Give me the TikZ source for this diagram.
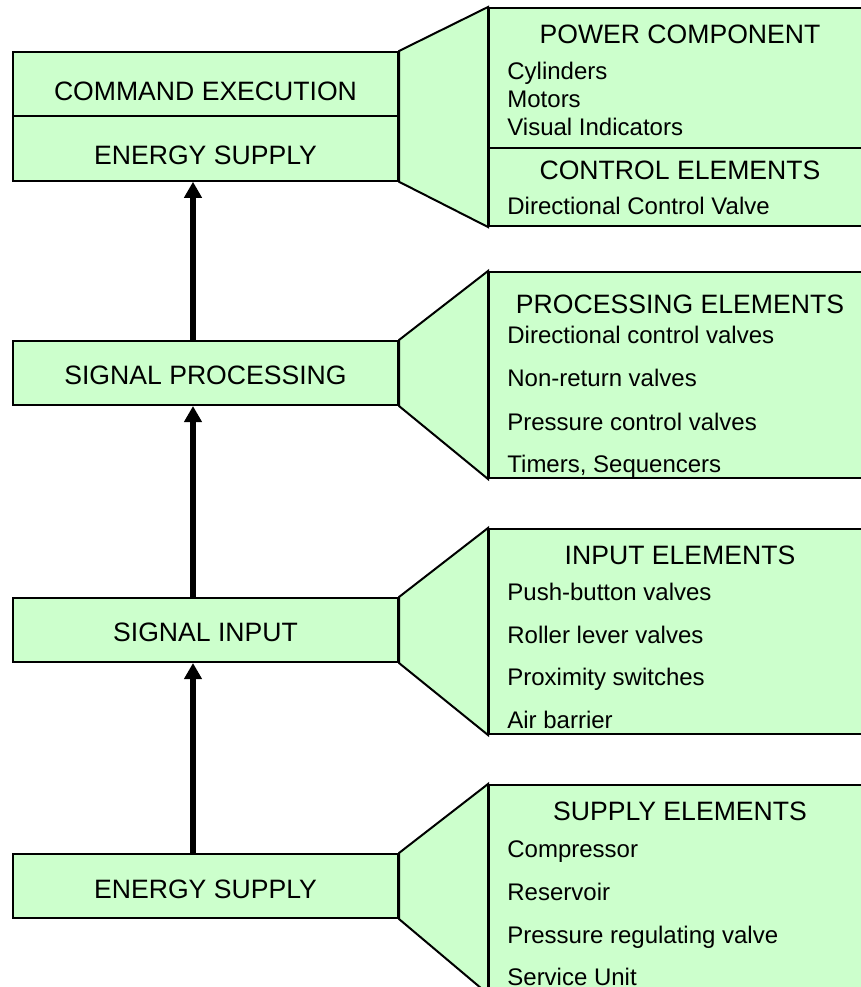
\documentclass[tikz,border=0pt]{standalone}
\usepackage{fontspec}
\setmainfont{Liberation Sans}
\usepackage{xcolor}
\usetikzlibrary{calc,arrows.meta}

\definecolor{stagegreen}{HTML}{CCFFCC}

\tikzset{
	stage/.style={draw, fill=stagegreen, line width=1pt, inner sep=0pt,
		minimum width=192.5pt, minimum height=32pt, text depth=0pt,
		font=\fontsize{13.3}{16}\selectfont},
	panel/.style={draw, fill=stagegreen, line width=1pt, inner sep=0pt,
		anchor=north west, minimum width=200pt},
	funnel/.style={draw, fill=stagegreen, line width=1pt, line join=miter},
	heading/.style={inner sep=0pt, font=\fontsize{13.3}{16}\selectfont},
	entry/.style={inner sep=0pt, anchor=base west, font=\fontsize{12}{14}\selectfont},
	flow/.style={line width=2.6pt, -{Triangle[length=8pt,width=8.5pt]}}
}

\begin{document}
\begin{tikzpicture}[x=0.5pt, y=-0.5pt]
			\useasboundingbox (0,0) rectangle (861,987);
			\clip (0,0) rectangle (861,987);

			\node[stage, text height=16.5pt] (exec) at (205.5,84) {COMMAND EXECUTION};
			\node[stage, minimum height=32.5pt, text height=16.5pt] (topsupply) at (205.5,148.25) {ENERGY SUPPLY};
			\node[stage, text height=11pt] (process) at (205.5,373) {SIGNAL PROCESSING};
			\node[stage, text height=11.5pt] (input) at (205.5,630) {SIGNAL INPUT};
			\node[stage, text height=12.5pt] (supply) at (205.5,886) {ENERGY SUPPLY};

			\node[panel, minimum height=109pt] (powerpanel) at (488,7) {};
			\node[panel, minimum height=103pt] (processpanel) at (488,271) {};
			\node[panel, minimum height=102.5pt] (inputpanel) at (488,528) {};
			\node[panel, minimum height=104pt] (supplypanel) at (488,784) {};

			\draw[funnel] (exec.north east) -- (powerpanel.north west) -- (powerpanel.south west) -- (topsupply.south east) -- cycle;
			\draw[funnel] (process.north east) -- (processpanel.north west) -- (processpanel.south west) -- (process.south east) -- cycle;
			\draw[funnel] (input.north east) -- (inputpanel.north west) -- (inputpanel.south west) -- (input.south east) -- cycle;
			\draw[funnel] (supply.north east) -- (supplypanel.north west) -- (supplypanel.south west) -- (supply.south east) -- cycle;

			\draw[line width=1pt] (powerpanel.west |- 0,148) -- (powerpanel.east |- 0,148);

			\node[heading] (power) at (680,34) {POWER COMPONENT};
			\node[entry] (cyl) at (507,79) {Cylinders};
			\node[entry] (mot) at (507,107) {Motors};
			\node[entry] (vis) at (507,135) {Visual Indicators};
			\node[heading] (control) at (680,170) {CONTROL ELEMENTS};
			\node[entry] (dcv) at (507,214) {Directional Control Valve};

			\node[heading] (processing) at (680,304) {PROCESSING ELEMENTS};
			\node[entry] (dirvalves) at (507,343) {Directional control valves};
			\node[entry] (nonreturn) at (507,386) {Non-return valves};
			\node[entry] (pressure) at (507,430) {Pressure control valves};
			\node[entry] (timers) at (507,472) {Timers, Sequencers};

			\node[heading] (inputs) at (680,555.5) {INPUT ELEMENTS};
			\node[entry] (push) at (507,600) {Push-button valves};
			\node[entry] (roller) at (507,643) {Roller lever valves};
			\node[entry] (prox) at (507,685) {Proximity switches};
			\node[entry] (barrier) at (507,728) {Air barrier};

			\node[heading] (supplies) at (680,811) {SUPPLY ELEMENTS};
			\node[entry] (comp) at (507,857) {Compressor};
			\node[entry] (res) at (507,900) {Reservoir};
			\node[entry] (regvalve) at (507,943) {Pressure regulating valve};
			\node[entry] (service) at (507,985) {Service Unit};

			\draw[flow] ([xshift=-6.25pt]process.north) -- ([xshift=-6.25pt]topsupply.south);
			\draw[flow] ([xshift=-6.25pt]input.north) -- ([xshift=-6.25pt]process.south);
			\draw[flow] ([xshift=-6.25pt]supply.north) -- ([xshift=-6.25pt]input.south);
		\end{tikzpicture}
\end{document}
